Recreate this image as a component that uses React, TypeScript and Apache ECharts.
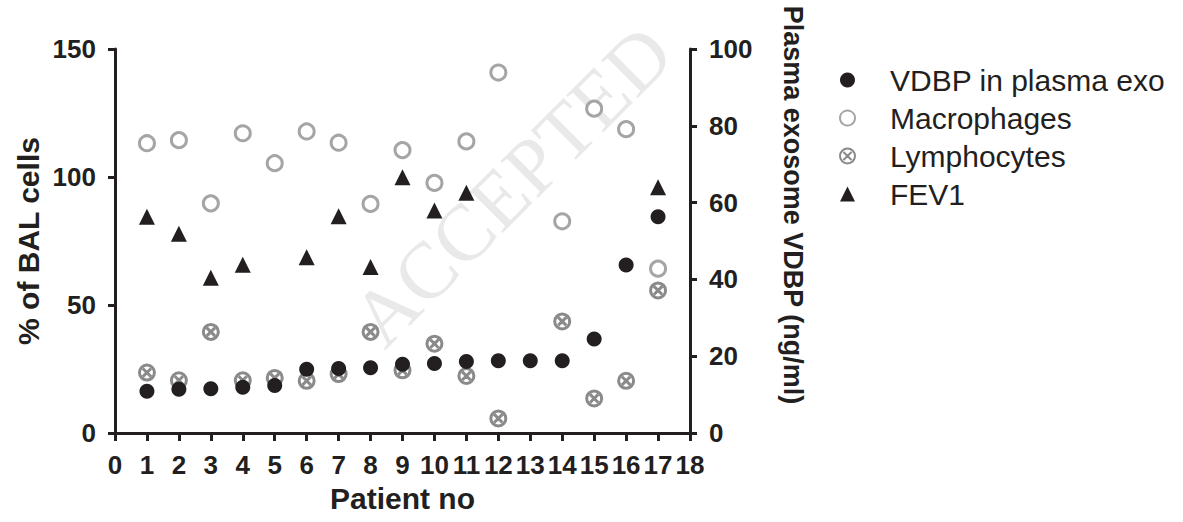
import React, { useEffect, useRef } from "react";
import * as echarts from "echarts";

const patients = [1, 2, 3, 4, 5, 6, 7, 8, 9, 10, 11, 12, 13, 14, 15, 16, 17];
const vdbp = [10.9, 11.4, 11.5, 11.9, 12.4, 16.6, 16.8, 17.0, 17.9, 18.1, 18.6, 18.8, 18.8, 18.8, 24.5, 43.75, 56.3];
const macrophages = [113.2, 114.4, 89.7, 117.1, 105.4, 117.8, 113.4, 89.5, 110.5, 97.7, 113.9, 140.8, null, 82.7, 126.7, 118.7, 64.2];
const lymphocytes = [23.6, 20.6, 39.5, 20.6, 21.5, 20.4, 23.0, 39.5, 24.5, 34.9, 22.3, 5.7, null, 43.6, 13.5, 20.4, 55.7];
const fev1 = [84.5, 77.8, 60.6, 65.7, null, 68.7, 84.7, 64.8, 99.9, 86.9, 93.8, null, null, null, null, null, 96.0];

const leftTicks = { min: 0, max: 150, interval: 50 };
const rightTicks = { min: 0, max: 100, interval: 20 };
const xTicks = { min: 0, max: 18, interval: 1 };

const BLACK = "#231f20";
const MAC = "#a5a5a5";
const LYM = "#8a8a8a";
const FONT = "Liberation Sans";

const crossCircle =
  "path://M10,0 A10,10 0 1,1 10,20 A10,10 0 1,1 10,0 Z M4.6,4.6 L15.4,15.4 M15.4,4.6 L4.6,15.4";

const pairs = (vals: (number | null)[]) =>
  patients.map((p, i) => [p, vals[i]]).filter((d) => d[1] !== null);

export default function App() {
  const ref = useRef<HTMLDivElement>(null);
  useEffect(() => {
    if (!ref.current) return;
    const chart = echarts.init(ref.current, null, { renderer: "svg" });
    const axisLine = { show: true, lineStyle: { color: BLACK, width: 3 } };
    const axisTick = { show: true, length: 7, lineStyle: { color: BLACK, width: 3 } };
    const label = { color: BLACK, fontFamily: FONT, fontWeight: "bold", fontSize: 26 };
    const nameStyle = { color: BLACK, fontFamily: FONT, fontWeight: "bold", fontSize: 30 };
    chart.setOption({
      animation: false,
      backgroundColor: "#ffffff",
      grid: { left: 115, right: 493, top: 49, bottom: 89, containLabel: false, outerBoundsMode: "none" },
      graphic: [
        {
          type: "text",
          x: 394,
          y: 360,
          rotation: Math.PI / 4,
          z: 0,
          silent: true,
          style: {
            text: "ACCEPTED",
            fontSize: 80,
            fontFamily: "Liberation Serif",
            fill: "#e9e9e9",
            align: "left",
            verticalAlign: "bottom",
          },
        },
        {
          type: "text",
          x: 793,
          y: 205,
          rotation: -Math.PI / 2,
          z: 10,
          style: {
            text: "Plasma exosome VDBP (ng/ml)",
            fontSize: 27,
            fontWeight: "bold",
            fontFamily: FONT,
            fill: BLACK,
            align: "center",
            verticalAlign: "middle",
          },
        },
      ],
      legend: {
        orient: "vertical",
        left: 834,
        top: 60,
        itemGap: 8,
        itemWidth: 15,
        itemHeight: 15,
        textStyle: { color: BLACK, fontFamily: FONT, fontSize: 30, padding: [0, 0, 0, 30] },
        data: ["VDBP in plasma exo", "Macrophages", "Lymphocytes", "FEV1"],
      },
      xAxis: {
        type: "value",
        ...xTicks,
        name: "Patient no",
        nameLocation: "middle",
        nameGap: 50,
        nameTextStyle: nameStyle,
        axisLine,
        axisTick: { ...axisTick, length: 8 },
        axisLabel: { ...label, margin: 19 },
        splitLine: { show: false },
      },
      yAxis: [
        {
          type: "value",
          ...leftTicks,
          position: "left",
          name: "% of BAL cells",
          nameLocation: "middle",
          nameGap: 72,
          nameRotate: 90,
          nameTextStyle: nameStyle,
          axisLine,
          axisTick,
          axisLabel: { ...label, margin: 19 },
          splitLine: { show: false },
        },
        {
          type: "value",
          ...rightTicks,
          position: "right",
          axisLine,
          axisTick,
          axisLabel: { ...label, margin: 19 },
          splitLine: { show: false },
        },
      ],
      series: [
        {
          name: "VDBP in plasma exo",
          type: "scatter",
          yAxisIndex: 1,
          symbol: "circle",
          symbolSize: 15,
          z: 6,
          itemStyle: { color: BLACK, opacity: 1 },
          data: pairs(vdbp),
        },
        {
          name: "Macrophages",
          type: "scatter",
          yAxisIndex: 0,
          symbol: "circle",
          symbolSize: 15,
          z: 3,
          itemStyle: { color: "#ffffff", borderColor: MAC, borderWidth: 3, opacity: 1 },
          data: pairs(macrophages),
        },
        {
          name: "Lymphocytes",
          type: "scatter",
          yAxisIndex: 0,
          symbol: crossCircle,
          symbolSize: 15,
          z: 4,
          itemStyle: { color: "#ffffff", borderColor: LYM, borderWidth: 3, opacity: 1 },
          data: pairs(lymphocytes),
        },
        {
          name: "FEV1",
          type: "scatter",
          yAxisIndex: 0,
          symbol: "triangle",
          symbolSize: 16,
          z: 5,
          itemStyle: { color: BLACK, opacity: 1 },
          data: pairs(fev1),
        },
      ],
    });
    return () => chart.dispose();
  }, []);
  return <div ref={ref} style={{ width: 1183, height: 522, position: "absolute", left: 0, top: 0 }} />;
}
